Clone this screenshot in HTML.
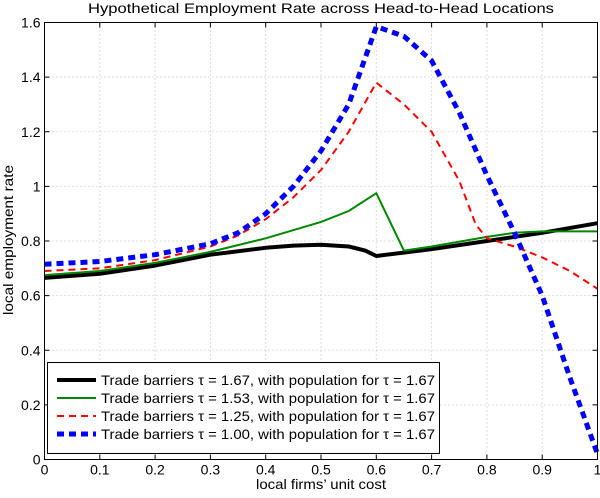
<!DOCTYPE html>
<html><head><meta charset="utf-8"><style>
body{margin:0;background:#fff}
svg{font-family:"Liberation Sans",sans-serif}
</style></head><body>
<svg id="c" width="600" height="493" xmlns="http://www.w3.org/2000/svg">
<text x="321" y="13" text-anchor="middle" font-size="14" textLength="466" lengthAdjust="spacingAndGlyphs">Hypothetical Employment Rate across Head-to-Head Locations</text>
<text x="321" y="489" text-anchor="middle" font-size="14" textLength="130" lengthAdjust="spacingAndGlyphs">local firms’ unit cost</text>
<text transform="translate(13,240) rotate(-90)" text-anchor="middle" font-size="14" textLength="150" lengthAdjust="spacingAndGlyphs">local employment rate</text>
<g id="grid"></g><g id="ticks"></g><g id="series"></g>
<rect x="44.5" y="22.5" width="553" height="437" fill="none" stroke="#000" stroke-width="1"/>
<g id="legend"></g>
</svg>
<script>
const xTicks=[0,0.1,0.2,0.3,0.4,0.5,0.6,0.7,0.8,0.9,1];
const xTickLabels=["0","0.1","0.2","0.3","0.4","0.5","0.6","0.7","0.8","0.9","1"];
const yTicks=[0,0.2,0.4,0.6,0.8,1,1.2,1.4,1.6];
const yTickLabels=["0","0.2","0.4","0.6","0.8","1","1.2","1.4","1.6"];
const blackX=[0,0.1,0.2,0.3,0.4,0.45,0.5,0.55,0.58,0.6,0.7,0.8,0.9,1];
const blackY=[0.665,0.68,0.71,0.75,0.775,0.783,0.786,0.78,0.765,0.745,0.77,0.80,0.83,0.865];
const greenX=[0,0.1,0.2,0.3,0.4,0.5,0.55,0.6,0.65,0.7,0.8,0.85,0.9,1];
const greenY=[0.675,0.69,0.72,0.76,0.81,0.87,0.91,0.975,0.765,0.78,0.815,0.83,0.835,0.835];
const redX=[0,0.1,0.2,0.3,0.35,0.4,0.45,0.5,0.55,0.6,0.65,0.7,0.75,0.78,0.8,0.85,0.9,0.95,1];
const redY=[0.69,0.70,0.73,0.78,0.82,0.88,0.96,1.06,1.2,1.38,1.3,1.2,1.02,0.86,0.81,0.78,0.74,0.69,0.625];
const blueX=[0,0.1,0.2,0.3,0.35,0.4,0.45,0.5,0.55,0.6,0.65,0.7,0.75,0.8,0.85,0.9,0.95,1];
const blueY=[0.715,0.725,0.75,0.79,0.83,0.9,1.0,1.13,1.3,1.585,1.55,1.46,1.27,1.04,0.83,0.6,0.3,0.02];
const legendLabels=["Trade barriers τ = 1.67, with population for τ = 1.67","Trade barriers τ = 1.53, with population for τ = 1.67","Trade barriers τ = 1.25, with population for τ = 1.67","Trade barriers τ = 1.00, with population for τ = 1.67"];
const NS="http://www.w3.org/2000/svg";
const X0=44.5,X1=597.5,Y0=459.5,Y1=22.5;
const sx=v=>X0+(X1-X0)*v, sy=v=>Y0-(Y0-Y1)*v/1.6;
function mk(t,a,p){const e=document.createElementNS(NS,t);for(const k in a)e.setAttribute(k,a[k]);document.getElementById(p).appendChild(e);return e;}
xTicks.forEach((v,i)=>{
 if(i>0&&i<xTicks.length-1){const g=mk('line',{x1:sx(v),x2:sx(v),y1:Y0,y2:Y1,stroke:'#bbb','stroke-dasharray':'1,3'},'grid');
 
 }
 mk('line',{x1:sx(v),x2:sx(v),y1:Y0,y2:Y0-5,stroke:'#000'},'ticks');
 mk('line',{x1:sx(v),x2:sx(v),y1:Y1,y2:Y1+5,stroke:'#000'},'ticks');
 const t=mk('text',{x:sx(v),y:Y0+15,'text-anchor':'middle','font-size':'14'},'ticks');t.textContent=xTickLabels[i];
 
 
});
yTicks.forEach((v,i)=>{
 if(i>0&&i<yTicks.length-1){const g=mk('line',{x1:X0,x2:X1,y1:sy(v),y2:sy(v),stroke:'#bbb','stroke-dasharray':'1,3'},'grid');
 
 }
 mk('line',{x1:X0,x2:X0+5,y1:sy(v),y2:sy(v),stroke:'#000'},'ticks');
 mk('line',{x1:X1,x2:X1-5,y1:sy(v),y2:sy(v),stroke:'#000'},'ticks');
 const t=mk('text',{x:X0-4,y:sy(v)+5,'text-anchor':'end','font-size':'14'},'ticks');t.textContent=yTickLabels[i];
 
 
});
const styles=[{c:'#000',w:4,d:''},{c:'#080',w:2,d:''},{c:'#f00',w:2,d:'7,5'},{c:'#00f',w:5,d:'7,5'}];
const sets=[[blackX,blackY],[greenX,greenY],[redX,redY],[blueX,blueY]];
const names=['series-tau-1-67','series-tau-1-53','series-tau-1-25','series-tau-1-00'];
sets.forEach((s,k)=>{
 const d=s[0].map((x,i)=>(i?'L':'M')+sx(x).toFixed(1)+','+sy(s[1][i]).toFixed(1)).join('');
 const p=mk('path',{d:d,fill:'none',stroke:styles[k].c,'stroke-width':styles[k].w,'stroke-dasharray':styles[k].d,'stroke-linejoin':'round'},'series');
 
 
});
const lb=mk('rect',{x:47.5,y:362.5,width:392,height:91,fill:'#fff',stroke:'#000'},'legend');


legendLabels.forEach((s,k)=>{
 const y=380+k*18;
 mk('line',{x1:57,x2:96,y1:y,y2:y,stroke:styles[k].c,'stroke-width':styles[k].w,'stroke-dasharray':styles[k].d},'legend');
 const t=mk('text',{x:101,y:y+5,'font-size':'14',textLength:'334',lengthAdjust:'spacingAndGlyphs'},'legend');t.textContent=s;
 
 
});
</script>
</body></html>
